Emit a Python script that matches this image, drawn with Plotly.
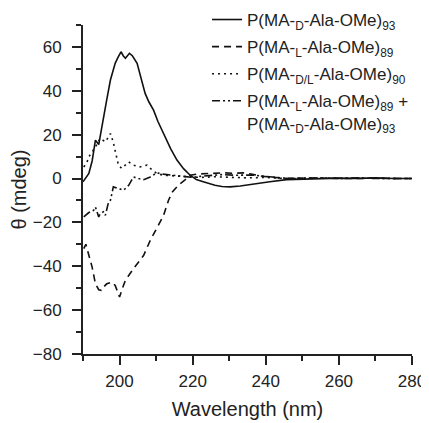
import plotly.graph_objects as go

# Wavelength (nm) / ellipticity (mdeg)
d_x = [190, 191, 191.6, 192.5, 193.4, 194.3, 195.6, 196.5, 197.5, 198.8, 199.5, 200.4, 201, 201.6, 202.7,
       203.5, 204.8, 206, 207, 208, 209.3, 210.5, 212, 214, 215.7, 217.5, 219.3, 221, 222.9, 226.1, 228,
       230.2, 233, 236, 238, 241.1, 245.7, 250, 255, 260, 265, 270, 275, 280]
d_y = [-1.5, 1, 2.3, 8, 17.5, 15.5, 26.6, 36, 44.9, 52.5, 55, 57.8, 56, 54.8, 57.1,
       56, 52.5, 45, 38.8, 35, 31.2, 26, 20.5, 13.5, 8.4, 4.5, 1.5, -0.5, -1.5, -3.1, -3.6,
       -3.8, -3.4, -2.6, -2.0, -1.5, -0.5, -0.3, 0, 0.2, 0, 0.3, 0, 0]

l_x = [190.2, 190.8, 191.6, 192.5, 193.4, 194.3, 195, 195.6, 196.5, 197.9, 198.8, 200, 200.8, 201.6,
       203.8, 206.6, 208.4, 210.6, 212, 213.4, 214.5, 215.7, 216.6, 218, 219.3, 221, 223.8, 228.4, 231,
       233.8, 236, 239.3, 242, 245.7, 250, 255, 260, 265, 270, 275, 280]
l_y = [-32, -30, -35, -40.4, -48, -50.7, -51, -49.5, -48, -47.2, -48.7, -54, -50, -46.4,
       -41.1, -35, -28.2, -21.3, -17, -9.9, -6, -3.8, -2.3, -0.5, 1.5, 2, 2.3, 2.6, 2.4,
       2.6, 2.0, 1.0, 0.6, 0, 0.2, 0, 0.1, 0, 0.2, 0, 0]

dl_x = [190.2, 191, 191.6, 192.5, 193.4, 194.7, 195.5, 196.1, 197, 197.5, 198.2, 198.8, 199.7, 200.6,
        201.5, 202.5, 203.8, 205.6, 207.5, 208.5, 210.2, 212, 215, 218, 222, 226, 230, 235, 240, 245,
        250, 260, 270, 280]
dl_y = [5.3, 7, 9.9, 12, 14.4, 18.3, 17.5, 16.7, 19, 20.5, 17, 12.9, 6.1, 4.6,
        6, 7.6, 6.1, 5.3, 6.1, 4.5, 2.3, 1.5, 1.2, 1.0, 0.5, 0.8, 0.5, 0.3, 0.5, 0,
        0.2, 0, 0.1, 0]

mix_x = [190.2, 191.1, 191.6, 192.9, 193.4, 194.3, 194.7, 195.6, 196.1, 197, 197.5, 198.3, 199.7, 201.1,
         202.5, 203.8, 205.2, 206.6, 208.4, 210.2, 212, 214.3, 216.1, 218, 220, 222, 225, 228, 232,
         236, 240, 244, 248, 255, 260, 265, 270, 275, 280]
mix_y = [-17.5, -16, -15.5, -14.5, -13, -17.5, -16, -15.2, -16.8, -10.7, -9.9, -3.8, -4.6, -5.3,
         -3.1, 0.7, 0, -0.5, 0.7, 2.6, 2.0, 1.5, 1.0, 0.8, 0.5, 1.0, 1.5, 1.8, 1.5,
         1.6, 1.0, 0.3, 0, 0.2, 0, 0.3, 0, 0.1, 0]

names = [
    "P(MA-<sub>D</sub>-Ala-OMe)<sub>93</sub>",
    "P(MA-<sub>L</sub>-Ala-OMe)<sub>89</sub>",
    "P(MA-<sub>D/L</sub>-Ala-OMe)<sub>90</sub>",
    "P(MA-<sub>L</sub>-Ala-OMe)<sub>89</sub> +<br>P(MA-<sub>D</sub>-Ala-OMe)<sub>93</sub>",
]

FONT = "Arial, Liberation Sans, sans-serif"
series = [(d_x, d_y, "solid"), (l_x, l_y, "7px,5px"), (dl_x, dl_y, "2px,4px"),
          (mix_x, mix_y, "8px,3px,2px,3px,2px,3px")]

fig = go.Figure()
for i, ((xs, ys, dash), nm) in enumerate(zip(series, names)):
    fig.add_trace(go.Scatter(x=xs, y=ys, mode="lines", name=nm, legendgroup=f"g{i}",
                             line=dict(color="#111111", width=1.6, dash=dash)))

# the page body has an 8px default margin, so the figure is 8px smaller than the window
fig.update_layout(
    width=421, height=415,
    margin=dict(l=75, r=17, t=17, b=69, autoexpand=False),
    paper_bgcolor="white", plot_bgcolor="white",
    font=dict(family=FONT, color="#222222"),
    showlegend=True,
    legend=dict(x=0.377, y=1.07, xanchor="left", yanchor="top", bgcolor="rgba(0,0,0,0)",
                font=dict(size=17, family=FONT), tracegroupgap=2, itemwidth=30, valign="top"),
    xaxis=dict(range=[190, 280], tick0=200, dtick=20, ticks="outside", ticklen=9, tickwidth=2,
               tickcolor="#222", showline=True, linewidth=2, linecolor="#222", showgrid=False,
               zeroline=False, tickfont=dict(size=17), ticklabelstandoff=2,
               minor=dict(dtick=10, tick0=190, ticks="outside", ticklen=5, tickwidth=2, tickcolor="#222"),
               title=dict(text="Wavelength (nm)", font=dict(size=20), standoff=12)),
    yaxis=dict(range=[-80, 70], tick0=-80, dtick=20, ticks="outside", ticklen=9, tickwidth=2,
               tickcolor="#222", showline=True, linewidth=2, linecolor="#222", showgrid=False,
               zeroline=False, tickfont=dict(size=17), ticklabelstandoff=7,
               minor=dict(dtick=10, tick0=-80, ticks="outside", ticklen=5, tickwidth=2, tickcolor="#222"),
               title=dict(text="θ (mdeg)", font=dict(size=20), standoff=4)),
)

fig.write_html("out.html")
